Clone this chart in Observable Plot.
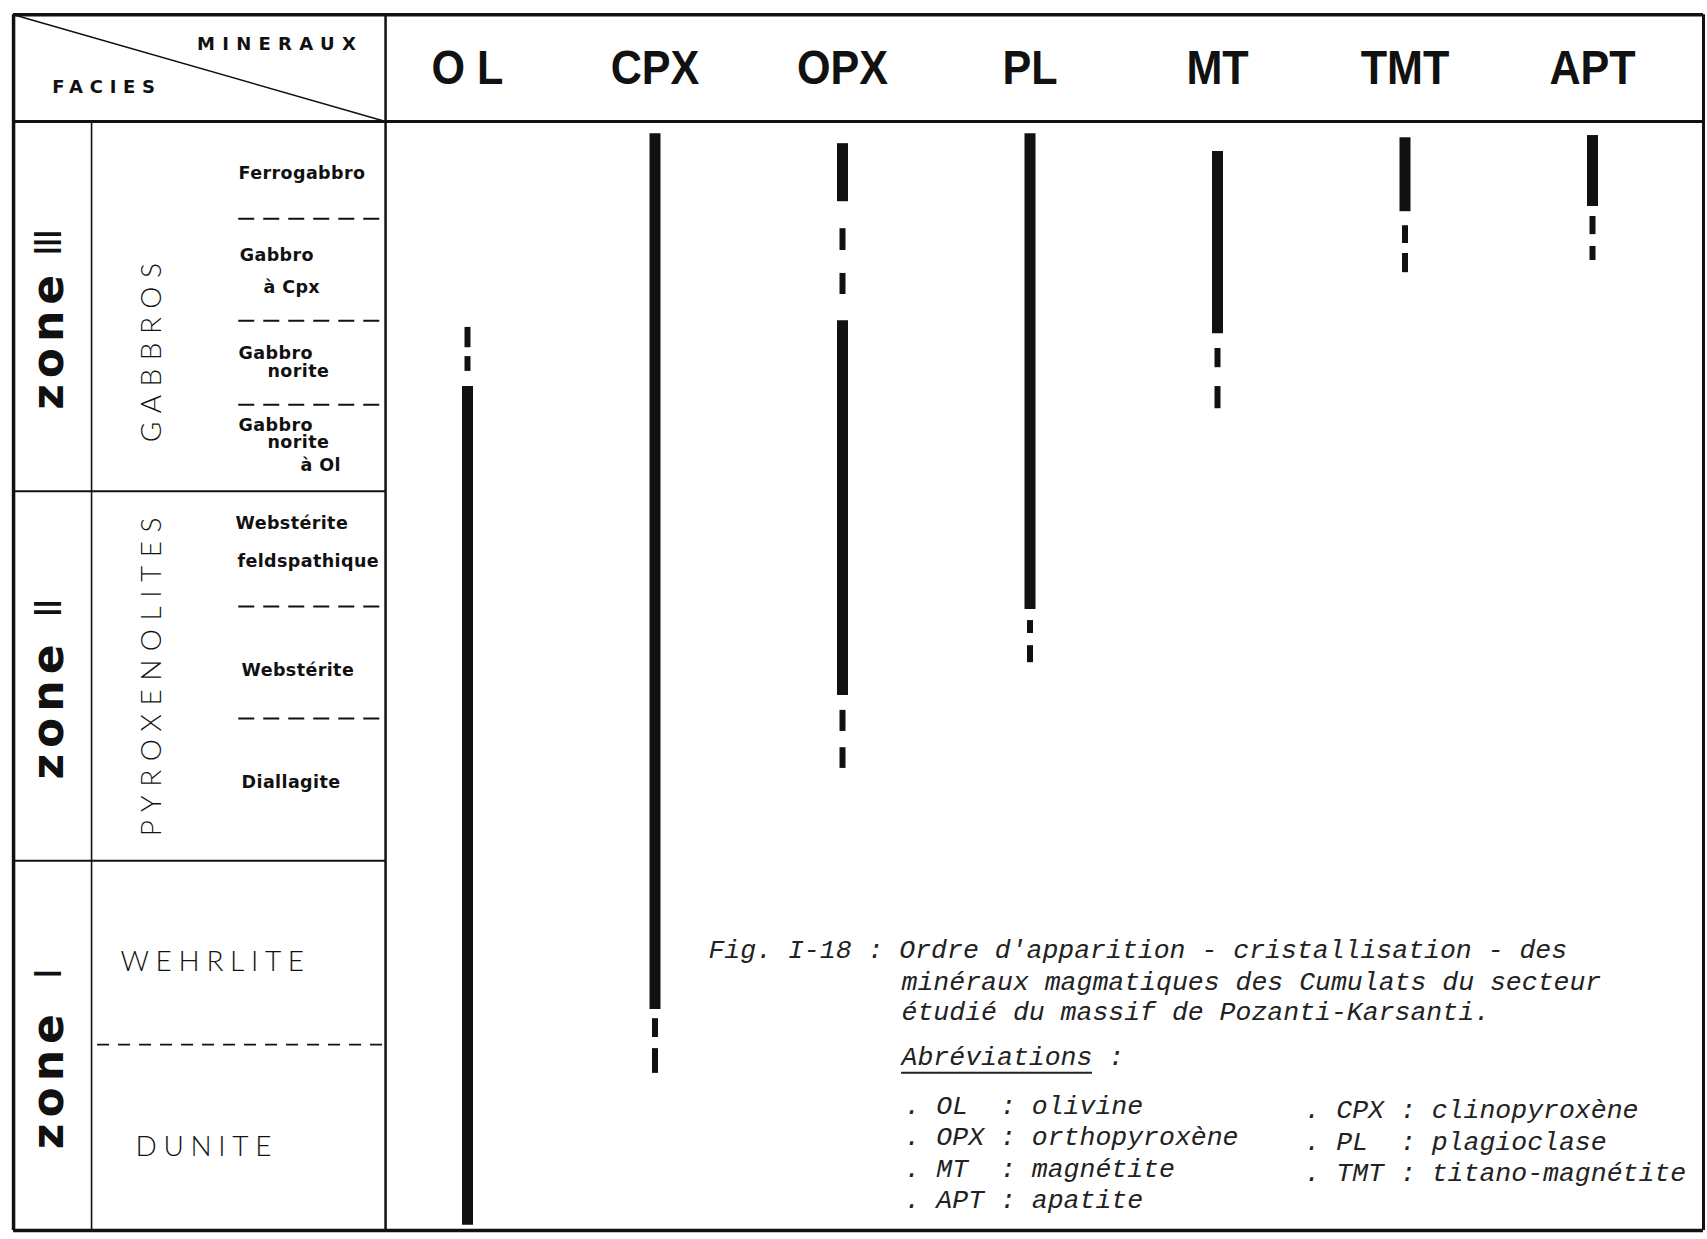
<!DOCTYPE html>
<html><head><meta charset="utf-8">
<script src="https://cdn.jsdelivr.net/npm/d3@7"></script>
<script src="https://cdn.jsdelivr.net/npm/@observablehq/plot@0.6"></script>
<style>
html,body{margin:0;padding:0;background:#fff;overflow:hidden}
#chart svg{display:block}
</style></head><body><div id="chart"></div><script>
// ---- data ----
const minerals = ["OL", "CPX", "OPX", "PL", "MT", "TMT", "APT"];
const mineralLabels = ["O L", "CPX", "OPX", "PL", "MT", "TMT", "APT"];

// continuous crystallisation (solid bars), stratigraphic level: 0 = base of zone I, 30 = top of zone III
const solidMineral = ["OL", "CPX", "OPX", "OPX", "PL", "MT", "TMT", "APT"];
const solidTop     = [22.83, 29.67, 29.40, 24.61, 29.67, 29.19, 29.56, 29.62];
const solidBottom  = [0.14, 5.98, 27.83, 14.47, 16.80, 24.26, 27.56, 27.70];

// discontinuous appearance (dashes)
const dashMineral = ["OL", "OL", "CPX", "CPX", "OPX", "OPX", "OPX", "OPX", "PL", "PL", "MT", "MT", "TMT", "TMT", "APT", "APT"];
const dashTop     = [24.43, 23.64, 5.73, 4.92, 27.10, 25.89, 14.07, 13.06, 16.50, 15.82, 23.86, 22.83, 27.18, 26.43, 27.43, 26.62];
const dashBottom  = [23.88, 23.24, 5.22, 4.25, 26.51, 25.32, 13.50, 12.50, 16.15, 15.36, 23.34, 22.23, 26.70, 25.91, 26.94, 26.24];

const zoneNumerals = ["III", "II", "I"];
const zoneBase = [20, 10, 0];
const zoneBounds = [10, 20];
const faciesBounds = [27.37, 24.61, 22.34, 16.88, 13.85];
const subFaciesBound = [5.03];

const faciesLabels = ["Ferrogabbro", "Gabbro", "à Cpx", "Gabbro", "norite", "Gabbro", "norite", "à Ol",
  "Webstérite", "feldspathique", "Webstérite", "Diallagite"];
const faciesLevel = [28.59, 26.37, 25.51, 23.74, 23.24, 21.77, 21.31, 20.69, 19.12, 18.10, 15.15, 12.12];

const groupLabels = ["GABBROS", "PYROXENOLITES"];
const groupLevel = [23.86, 15.09];
const rockLabels = ["WEHRLITE", "DUNITE"];
const rockLevel = [7.25, 2.27];

const captionLines = ["Fig. I-18 : Ordre d'apparition - cristallisation - des",
  "minéraux magmatiques des Cumulats du secteur",
  "étudié du massif de Pozanti-Karsanti."];
const abbrevCodes = ["OL", "OPX", "MT", "APT", "CPX", "PL", "TMT"];
const abbrevNames = ["olivine", "orthopyroxène", "magnétite", "apatite", "clinopyroxène", "plagioclase", "titano-magnétite"];

// ---- layout (in plot units: x = mineral column, y = level) ----
const X_LEFT = -1.421, X_ZONE = -1.005, X_FAC = 0.563, X_RIGHT = 7.592, L_TOP = 32.89;
const faciesX = [-0.221, -0.215, -0.088, -0.221, -0.067, -0.221, -0.067, 0.109, -0.237, -0.227, -0.205, -0.205];
const pos = m => minerals.indexOf(m) + 1;

const solid = solidMineral.map((m, i) => ({x: pos(m), y1: solidTop[i], y2: solidBottom[i]}));
const dashes = dashMineral.map((m, i) => ({x: pos(m), y1: dashTop[i], y2: dashBottom[i]}));

const hLines = [
  {y: L_TOP, x1: X_LEFT, x2: X_RIGHT, w: 3.5},
  {y: 0, x1: X_LEFT, x2: X_RIGHT, w: 3.5},
  {y: 30, x1: X_LEFT, x2: X_RIGHT, w: 3},
  ...zoneBounds.map(b => ({y: b, x1: X_LEFT, x2: X_FAC, w: 2}))
];
const vLines = [
  {x: X_LEFT, y1: 0, y2: L_TOP, w: 3.5},
  {x: X_RIGHT, y1: 0, y2: L_TOP, w: 3},
  {x: X_FAC, y1: 0, y2: L_TOP, w: 2.5},
  {x: X_ZONE, y1: 0, y2: 30, w: 1.6}
];
const dashLines = faciesBounds.map(b => ({y: b, x1: -0.22, x2: X_FAC}));
const dashLines2 = subFaciesBound.map(b => ({y: b, x1: -0.973, x2: X_FAC}));

const zones = zoneNumerals.map((n, i) => ({n, base: zoneBase[i]}));
const facies = faciesLabels.map((t, i) => ({t, y: faciesLevel[i], x: faciesX[i]}));
const caption = captionLines.map((t, i) => ({t, x: i === 0 ? 2.285 : 3.315, y: [7.60, 6.74, 5.92][i]}));
const nb = "\u00A0";
const abbrev = abbrevCodes.map((c, i) => ({
  t: "." + nb + (c + nb + nb + nb).slice(0, 3) + nb + ":" + nb + abbrevNames[i],
  x: i < 4 ? 3.331 : 5.464,
  y: i < 4 ? [3.38, 2.54, 1.68, 0.84][i] : [3.27, 2.41, 1.57][i - 4]
}));

const ink = "#111";
const sansBold = "'DejaVu Sans', Verdana, sans-serif";
const light = "Lato, 'Open Sans', sans-serif";
const mono = "'Liberation Mono', 'DejaVu Sans Mono', monospace";

const chart = Plot.plot({
  width: 1707, height: 1239,
  marginLeft: 467, marginRight: 115, marginTop: 121, marginBottom: 9,
  x: {domain: [1, 7], axis: null},
  y: {domain: [0, 30], axis: null},
  style: {background: "#fff", overflow: "visible"},
  marks: [
    // table frame
    Plot.ruleY(hLines, {y: "y", x1: "x1", x2: "x2", strokeWidth: "w", stroke: ink}),
    Plot.ruleX(vLines, {x: "x", y1: "y1", y2: "y2", strokeWidth: "w", stroke: ink}),
    Plot.ruleY(dashLines, {y: "y", x1: "x1", x2: "x2", stroke: ink, strokeWidth: 2, strokeDasharray: "16,9"}),
    Plot.ruleY(dashLines2, {y: "y", x1: "x1", x2: "x2", stroke: ink, strokeWidth: 1.8, strokeDasharray: "12,9"}),
    Plot.link([{x1: X_LEFT, y1: L_TOP, x2: X_FAC, y2: 30}], {x1: "x1", y1: "y1", x2: "x2", y2: "y2", stroke: ink, strokeWidth: 1.6}),
    // header
    Plot.text(["MINERAUX"], {x: () => 0.0, y: () => 32.08, text: d => d, fontSize: 18, fontWeight: "bold", fontFamily: sansBold, fill: ink}),
    Plot.text(["FACIES"], {x: () => -0.923, y: () => 30.92, text: d => d, fontSize: 18, fontWeight: "bold", fontFamily: sansBold, fill: ink}),
    Plot.text(minerals, {x: d => pos(d), y: () => 31.43, text: (d, i) => mineralLabels[i], fontSize: 49, fontWeight: "bold",
      fontFamily: "'Liberation Sans Narrow', 'Liberation Sans', Arial, sans-serif", fill: ink}),
    // zone labels
    Plot.text(zones, {x: () => -1.235, y: d => d.base + 2.2, text: () => "zone", rotate: -90, textAnchor: "start",
      fontSize: 44, fontWeight: "bold", fontFamily: sansBold, fill: ink}),
    Plot.text(zones, {x: () => -1.235, y: d => d.base + 7.02, text: d => d.n, rotate: -90, textAnchor: "end",
      fontSize: 38, fontWeight: "bold", fontFamily: sansBold, fill: ink}),
    // rock groups
    Plot.text(groupLabels, {x: () => -0.68, y: (d, i) => groupLevel[i], text: d => d, rotate: -90,
      fontSize: 28, fontWeight: 300, fontFamily: light, fill: ink}),
    Plot.text(rockLabels, {x: (d, i) => [-0.851, -0.771][i], y: (d, i) => rockLevel[i], text: d => d, textAnchor: "start",
      fontSize: 28, fontWeight: 300, fontFamily: light, fill: ink}),
    // facies
    Plot.text(facies, {x: "x", y: "y", text: "t", textAnchor: "start", fontSize: 17.5, fontWeight: "bold", fontFamily: sansBold, fill: ink}),
    // mineral occurrence bars
    Plot.ruleX(solid, {x: "x", y1: "y1", y2: "y2", stroke: ink, strokeWidth: 11}),
    Plot.ruleX(dashes, {x: "x", y1: "y1", y2: "y2", stroke: ink, strokeWidth: 6}),
    // caption
    Plot.text(caption, {x: "x", y: "y", text: "t", textAnchor: "start", fontSize: 26.5, fontStyle: "italic", fontFamily: mono, fill: "#222"}),
    Plot.text(["Abréviations" + nb + ":"], {x: () => 3.315, y: () => 4.71, text: d => d, textAnchor: "start", fontSize: 26.5, fontStyle: "italic", fontFamily: mono, fill: "#222"}),
    Plot.ruleY([{y: 4.27, x1: 3.315, x2: 4.333}], {y: "y", x1: "x1", x2: "x2", stroke: "#222", strokeWidth: 2}),
    Plot.text(abbrev, {x: "x", y: "y", text: "t", textAnchor: "start", fontSize: 26.5, fontStyle: "italic", fontFamily: mono, fill: "#222"})
  ]
});

// typographic finishing: letter spacing and condensed header glyphs
const spacing = new Map([["MINERAUX", 7.3], ["FACIES", 6.7], ["zone", 6], ["III", -3], ["II", -3], ["I", -3],
  ["GABBROS", 8.5], ["PYROXENOLITES", 8.5], ["WEHRLITE", 6.7], ["DUNITE", 6.7]]);
d3.select(chart).selectAll("text").each(function() {
  const t = this.textContent;
  if (spacing.has(t)) this.style.letterSpacing = spacing.get(t) + "px";
  if (zoneNumerals.includes(t)) this.style.fontWeight = "normal";
  if (faciesLabels.includes(t)) this.style.letterSpacing = "0.4px";
  if (mineralLabels.includes(t)) {
    const tr = this.getAttribute("transform") || "";
    this.setAttribute("transform", `${tr} scale(0.88,1)`);
  }
});
document.getElementById("chart").appendChild(chart);
</script></body></html>
